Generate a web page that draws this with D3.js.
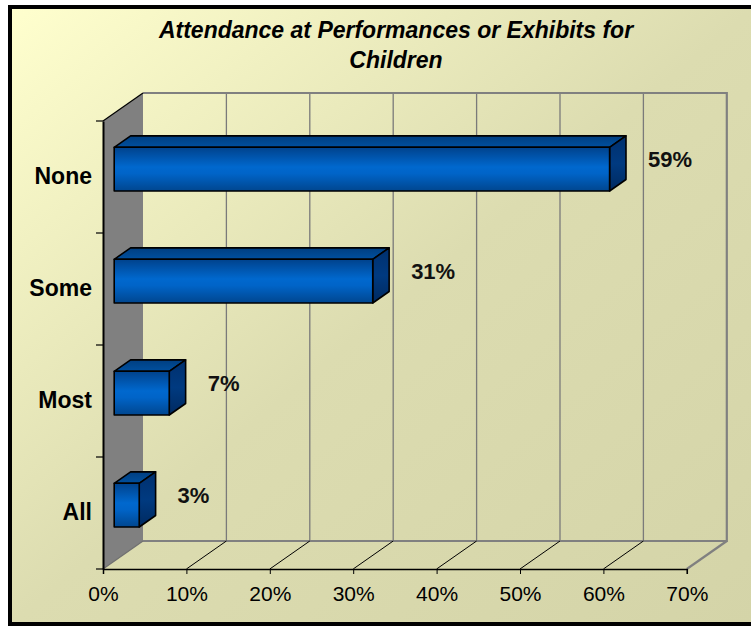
<!DOCTYPE html>
<html><head><meta charset="utf-8">
<script src="https://cdnjs.cloudflare.com/ajax/libs/d3/7.8.5/d3.min.js"></script>
<style>body{margin:0;background:#fff}svg{display:block}</style>
</head><body>
<script>
const categories = ["None", "Some", "Most", "All"];
const values = [0.594, 0.31, 0.066, 0.03];
const valueLabels = ["59%", "31%", "7%", "3%"];
const tickValues = [0, 0.1, 0.2, 0.3, 0.4, 0.5, 0.6, 0.7];
const titleLines = ["Attendance at Performances or Exhibits for", "Children"];

const W = 751, H = 626;
const FONT = "Liberation Sans, Arial, sans-serif";
const svg = d3.select("body").append("svg").attr("width", W).attr("height", H);
const defs = svg.append("defs");

const bg = defs.append("linearGradient").attr("id", "bg").attr("x1", 0).attr("y1", 0).attr("x2", 1).attr("y2", 1);
bg.append("stop").attr("offset", 0).attr("stop-color", "#FFFFCE");
bg.append("stop").attr("offset", 0.5).attr("stop-color", "#DCDCB0");
bg.append("stop").attr("offset", 1).attr("stop-color", "#D4D4A8");

const front = defs.append("linearGradient").attr("id", "front").attr("x1", 0).attr("y1", 0).attr("x2", 0).attr("y2", 1);
[[0, "#00428C"], [0.45, "#0068CE"], [0.6, "#0064C8"], [1, "#00468F"]].forEach(s =>
  front.append("stop").attr("offset", s[0]).attr("stop-color", s[1]));
const topG = defs.append("linearGradient").attr("id", "topg").attr("x1", 0).attr("y1", 0).attr("x2", 0).attr("y2", 1);
[[0, "#003E80"], [1, "#00509F"]].forEach(s => topG.append("stop").attr("offset", s[0]).attr("stop-color", s[1]));
const sideG = defs.append("linearGradient").attr("id", "sideg").attr("x1", 0).attr("y1", 0).attr("x2", 0).attr("y2", 1);
[[0, "#00306E"], [0.5, "#003A80"], [1, "#002A60"]].forEach(s => sideG.append("stop").attr("offset", s[0]).attr("stop-color", s[1]));

// background + frame
svg.append("rect").attr("x", 10).attr("y", 7).attr("width", 745).attr("height", 617)
  .attr("fill", "url(#bg)").attr("stroke", "#000").attr("stroke-width", 4);

// title
svg.append("g").selectAll("text").data(titleLines).join("text")
  .attr("x", 396).attr("y", (d, i) => 38 + i * 30)
  .attr("text-anchor", "middle")
  .attr("font-family", FONT)
  .attr("font-weight", "bold").attr("font-style", "italic").attr("font-size", 23)
  .text(d => d);

// geometry
const x = d3.scaleLinear().domain([0, 0.7]).range([103, 686.8]);
const y = d3.scaleBand().domain(categories).range([121, 569]);
const DX = 40, DY = -28;
const yTop = 121, yBot = 569;
const P = (xv, yv, f) => [xv + DX * f, yv + DY * f];
const line = d3.line();

const g = svg.append("g");

// side wall
g.append("path").attr("d", line([P(x(0), yTop, 0), P(x(0), yTop, 1), P(x(0), yBot, 1), P(x(0), yBot, 0)]) + "Z")
  .attr("fill", "#808080").attr("stroke", "none");

// gridlines on back wall
g.append("g").selectAll("line").data(tickValues.slice(1, -1)).join("line")
  .attr("x1", d => P(x(d), yTop, 1)[0]).attr("y1", P(0, yTop, 1)[1])
  .attr("x2", d => P(x(d), yBot, 1)[0]).attr("y2", P(0, yBot, 1)[1])
  .attr("stroke", "#7a7a7a").attr("stroke-width", 1.3);

// back wall top/right, floor back line
g.append("path").attr("d", line([P(x(0), yTop, 1), P(x(0.7), yTop, 1), P(x(0.7), yBot, 1), P(x(0), yBot, 1)]))
  .attr("fill", "none").attr("stroke", "#808080").attr("stroke-width", 2.2);
g.append("path").attr("d", line([P(x(0.7), yBot, 1), P(x(0.7), yBot, 0)]))
  .attr("fill", "none").attr("stroke", "#808080").attr("stroke-width", 2.2);
// floor diagonals
g.append("g").selectAll("line").data(tickValues.slice(1, -1)).join("line")
  .attr("x1", d => P(x(d), yBot, 0)[0]).attr("y1", yBot)
  .attr("x2", d => P(x(d), yBot, 1)[0]).attr("y2", P(0, yBot, 1)[1])
  .attr("stroke", "#000").attr("stroke-width", 1);
// side wall edges
g.append("path").attr("d", line([P(x(0), yTop, 0), P(x(0), yTop, 1)]))
  .attr("stroke", "#000").attr("stroke-width", 1.2).attr("fill", "none");
g.append("path").attr("d", line([P(x(0), yBot, 0), P(x(0), yBot, 1)]))
  .attr("stroke", "#707070").attr("stroke-width", 1.2).attr("fill", "none");

// axes (front)
const xAxis = d3.axisBottom(x).tickValues(tickValues).tickFormat(d3.format(".0%")).tickSize(5).tickPadding(12);
const xa = g.append("g").attr("transform", `translate(0,${yBot})`).call(xAxis);
xa.select(".domain").attr("stroke", "#000").attr("stroke-width", 1.5);
xa.selectAll(".tick line").attr("stroke", "#000");
xa.selectAll("text").attr("font-family", FONT).attr("font-size", 21).attr("fill", "#000");

const yAxis = d3.axisLeft(y).tickSize(0).tickPadding(11);
const ya = g.append("g").attr("transform", `translate(${x(0)},0)`).call(yAxis);
ya.select(".domain").attr("stroke", "#000").attr("stroke-width", 2);
ya.selectAll("text").attr("font-family", FONT).attr("font-size", 23)
  .attr("font-weight", "bold").attr("fill", "#000");
// left boundary ticks
g.append("g").selectAll("line").data(d3.range(categories.length + 1)).join("line")
  .attr("x1", x(0) - 7).attr("x2", x(0))
  .attr("y1", i => yTop + i * y.step()).attr("y2", i => yTop + i * y.step())
  .attr("stroke", "#000").attr("stroke-width", 1.2);

// bars
const f0 = 0.28, f1 = 0.69;
const barH = y.step() * 0.39;
const bars = g.append("g").selectAll("g").data(categories.map((c, i) => ({c, v: values[i], lbl: valueLabels[i]}))).join("g");
bars.each(function(d) {
  const s = d3.select(this);
  const yc = y(d.c) + y.bandwidth() / 2;
  const y0 = yc - barH / 2, y1 = yc + barH / 2;
  const xl = x(0), xr = x(d.v);
  const A = P(xl, y0, f0), B = P(xr, y0, f0), C = P(xr, y1, f0), D = P(xl, y1, f0);
  const A2 = P(xl, y0, f1), B2 = P(xr, y0, f1), C2 = P(xr, y1, f1);
  s.append("path").attr("d", line([A, A2, B2, B]) + "Z").attr("fill", "url(#topg)")
    .attr("stroke", "#000").attr("stroke-width", 1.6).attr("stroke-linejoin", "round");
  s.append("path").attr("d", line([B, B2, C2, C]) + "Z").attr("fill", "url(#sideg)")
    .attr("stroke", "#000").attr("stroke-width", 1.6).attr("stroke-linejoin", "round");
  s.append("path").attr("d", line([A, B, C, D]) + "Z").attr("fill", "url(#front)")
    .attr("stroke", "#000").attr("stroke-width", 1.6).attr("stroke-linejoin", "round");
  s.append("text").attr("x", B2[0] + 22).attr("y", (B2[1] + C2[1]) / 2 + 4)
    .attr("dominant-baseline", "middle")
    .attr("font-family", FONT).attr("font-size", 22)
    .attr("font-weight", "bold").attr("fill", "#111").text(d.lbl);
});
</script>
</body></html>
